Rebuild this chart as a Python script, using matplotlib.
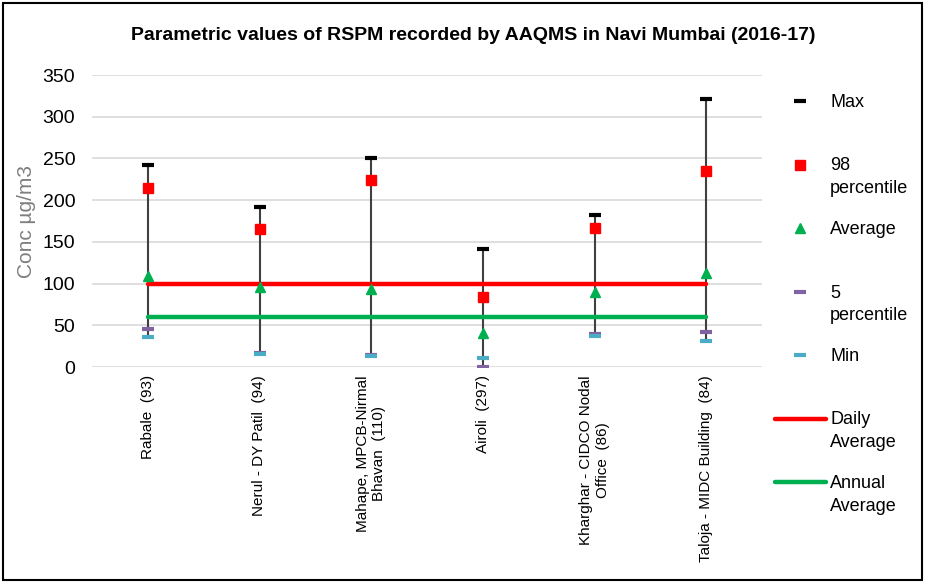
import matplotlib
matplotlib.use('Agg')
import matplotlib.pyplot as plt
from matplotlib.lines import Line2D
from matplotlib.patches import Rectangle
import numpy as np

# station names (with no. of readings)
stations = ['Rabale  (93)', 'Nerul - DY Patil  (94)', 'Mahape, MPCB-Nirmal\nBhavan  (110)',
            'Airoli  (297)', 'Kharghar - CIDCO Nodal\nOffice  (86)', 'Taloja - MIDC Building  (84)']

# RSPM values in µg/m3
max_val = [242, 192, 250, 141, 182, 321]
p98 = [214, 166, 224, 84, 167, 235]
avg = [109, 96, 94, 41, 90, 113]
p5 = [46, 17, 14, 0, 40, 42]
min_val = [36, 16, 13, 11, 37, 31]

daily_std = 100
annual_std = 60

narrow = ['Liberation Sans Narrow', 'Liberation Sans', 'DejaVu Sans']
plt.rcParams['font.family'] = ['Liberation Sans', 'DejaVu Sans']

fig = plt.figure(figsize=(9.26, 5.83), dpi=100)
ax = fig.add_axes([92/926, 1-367/583, (762-92)/926, (367-75)/583])

x = np.arange(len(stations))
lows = np.minimum(min_val, p5)

ax.vlines(x, lows, max_val, color='#404040', lw=1.5, zorder=2)
ax.plot([x[0], x[-1]], [daily_std, daily_std], color='#ff0000', lw=3.2, zorder=3, solid_capstyle='round')
ax.plot([x[0], x[-1]], [annual_std, annual_std], color='#00b050', lw=3.2, zorder=3, solid_capstyle='round')

ax.plot(x, max_val, ls='none', marker='_', ms=9, mew=3, color='black', zorder=4)
ax.plot(x, p98, ls='none', marker='s', ms=6.5, color='#ff0000', zorder=4)
ax.plot(x, avg, ls='none', marker='^', ms=7, color='#00b050', zorder=4)
ax.plot(x, p5, ls='none', marker='_', ms=9, mew=3, color='#8064a2', zorder=4)
ax.plot(x, min_val, ls='none', marker='_', ms=9, mew=3, color='#4bacc6', zorder=4)

ax.set_xlim(-0.5, len(stations) - 0.5)
ax.set_ylim(0, 350)
ax.set_yticks(range(0, 351, 50))
ax.grid(axis='y', color='#d9d9d9', lw=1.2)
ax.set_axisbelow(True)
for s in ax.spines.values():
    s.set_visible(False)
ax.tick_params(length=0)
ax.tick_params(axis='y', labelsize=14, pad=12)
for t in ax.get_yticklabels():
    t.set_family(narrow)
ax.set_xticks(x)
ax.set_xticklabels(stations, rotation=90, fontsize=11, ha='center', va='top', multialignment='center')
ax.tick_params(axis='x', pad=6)

ax.set_ylabel('Conc µg/m3', fontsize=15, color='#7f7f7f')
ax.yaxis.set_label_coords(-56/670, 0.5)

fig.text(473/926, 1-35/583, 'Parametric values of RSPM recorded by AAQMS in Navi Mumbai (2016-17)',
         ha='center', va='center', fontsize=14, fontweight='bold', family=narrow)

# legend built by hand (Excel style layout)
entries = [
    ('marker', dict(marker='_', ms=9, mew=3, color='black'), 'Max'),
    ('marker', dict(marker='s', ms=6.5, color='#ff0000'), '98\npercentile'),
    ('marker', dict(marker='^', ms=7, color='#00b050'), 'Average'),
    ('marker', dict(marker='_', ms=9, mew=3, color='#8064a2'), '5\npercentile'),
    ('marker', dict(marker='_', ms=9, mew=3, color='#4bacc6'), 'Min'),
    ('line', dict(color='#ff0000', lw=3.2), 'Daily\nAverage'),
    ('line', dict(color='#00b050', lw=3.2), 'Annual\nAverage'),
]
for i, (kind, style, label) in enumerate(entries):
    yp = 1 - (101 + 63.5 * i) / 583
    if kind == 'marker':
        fig.add_artist(Line2D([800/926], [yp], ls='none', transform=fig.transFigure, **style))
    else:
        fig.add_artist(Line2D([775/926, 826/926], [yp, yp], transform=fig.transFigure,
                              solid_capstyle='round', **style))
    fig.text(830/926, yp + 7/583, label, ha='left', va='top', fontsize=13, linespacing=1.45)

fig.add_artist(Rectangle((3/926, 3/583), 919/926, 577/583, transform=fig.transFigure,
                         fill=False, ec='black', lw=1.5))

fig.savefig('out.png', dpi=100)
